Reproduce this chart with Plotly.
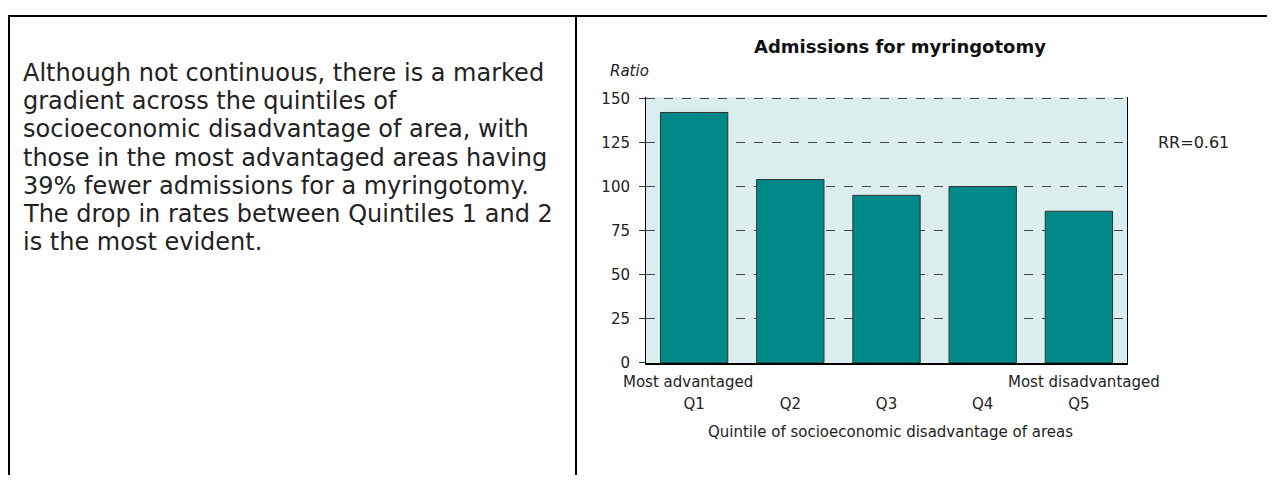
import plotly.graph_objects as go

# --- data ---
quintiles = ["Q1", "Q2", "Q3", "Q4", "Q5"]
ratios = [142, 104, 95, 100, 86]
y_ticks = [0, 25, 50, 75, 100, 125, 150]
end_labels = {"Q1": "Most advantaged", "Q5": "Most disadvantaged"}
rr_text = "RR=0.61"
rr_level = 125

chart_title = "Admissions for myringotomy"
x_title = "Quintile of socioeconomic disadvantage of areas"
paragraph = [
    "Although not continuous, there is a marked",
    "gradient across the quintiles of",
    "socioeconomic disadvantage of area, with",
    "those in the most advantaged areas having",
    "39% fewer admissions for a myringotomy.",
    "The drop in rates between Quintiles 1 and 2",
    "is the most evident.",
]

# page is 1275x484, the body keeps its default 8px margin
PAD = 8
W, H = 1275 - PAD, 484 - PAD
FONT = "DejaVu Sans"
TXT = "#222222"


def px(x):
    # page pixel -> paper fraction
    return (x - PAD) / W


def py(y):
    return 1 - (y - PAD) / H


fig = go.Figure()
fig.add_trace(go.Bar(
    x=quintiles, y=ratios,
    marker=dict(color="#018888", line=dict(color="#333333", width=1)),
    hoverinfo="x+y",
))

annotations = []
# paragraph on the left panel
for i, line in enumerate(paragraph):
    annotations.append(dict(
        text=line, xref="paper", yref="paper", x=px(21), y=py(68 + i * 29.2),
        xanchor="left", yanchor="middle", showarrow=False,
        font=dict(family=FONT, size=24, color=TXT),
    ))

annotations += [
    dict(text="<b>" + chart_title + "</b>", xref="paper", yref="paper",
         x=px(900), y=py(41), xanchor="center", yanchor="middle", showarrow=False,
         font=dict(family=FONT, size=18, color="#111111")),
    dict(text="<i>Ratio</i>", xref="paper", yref="paper", x=px(608), y=py(66),
         xanchor="left", yanchor="middle", showarrow=False,
         font=dict(family=FONT, size=15, color=TXT)),
    dict(text=rr_text, xref="paper", yref="y", x=px(1156), y=rr_level,
         xanchor="left", yanchor="middle", showarrow=False,
         font=dict(family=FONT, size=16, color=TXT)),
    dict(text=x_title, xref="paper", yref="paper", x=px(890), y=py(439),
         xanchor="center", yanchor="middle", showarrow=False,
         font=dict(family=FONT, size=15, color=TXT)),
]
for q, lab in end_labels.items():
    annotations.append(dict(
        text=lab, xref="x", yref="paper", x=q, y=py(388),
        xanchor="center", yanchor="middle", showarrow=False,
        xshift=-6 if q == "Q1" else 5,
        font=dict(family=FONT, size=15, color=TXT),
    ))

# frame lines of the page layout
line = dict(color="black", width=2)
shapes = [
    dict(type="line", xref="paper", yref="paper", x0=px(8), x1=1, y0=py(9), y1=py(9), line=line),
    dict(type="line", xref="paper", yref="paper", x0=px(9), x1=px(9), y0=py(8), y1=0, line=line),
    dict(type="line", xref="paper", yref="paper", x0=px(576), x1=px(576), y0=py(8), y1=0, line=line),
]

fig.update_layout(
    width=W, height=H,
    margin=dict(l=0, r=0, t=0, b=0),
    paper_bgcolor="white",
    plot_bgcolor="#daeeed",
    bargap=0.3,
    showlegend=False,
    annotations=annotations,
    shapes=shapes,
    xaxis=dict(
        domain=[px(646), px(1127)],
        type="category",
        range=[-0.5, len(quintiles) - 0.5],
        tickfont=dict(family=FONT, size=15, color=TXT),
        showline=True, linecolor="black", linewidth=2,
        ticks="", ticklabelstandoff=26,
        showgrid=False,
    ),
    yaxis=dict(
        domain=[py(368), py(93)],
        range=[0, 150.7],
        tickvals=y_ticks,
        tickfont=dict(family=FONT, size=15, color=TXT),
        showline=True, linecolor="black", linewidth=1, mirror=True,
        ticks="outside", ticklen=6, tickcolor="#333333",
        ticklabelstandoff=6,
        showgrid=True, gridcolor="#444444", gridwidth=1.2, griddash="dash",
        zeroline=False,
    ),
)

fig.write_html("out.html")
